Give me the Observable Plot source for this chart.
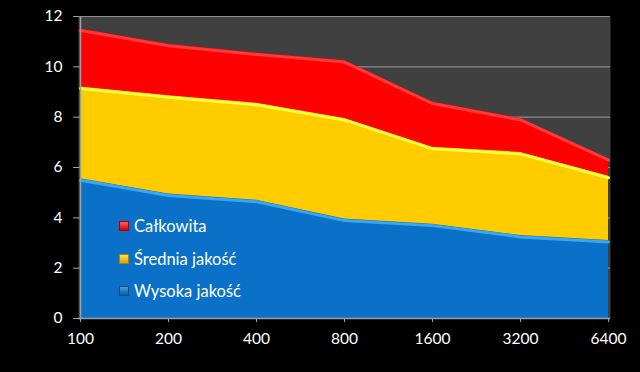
<!DOCTYPE html>
<html>
<head>
<meta charset="utf-8">
<script src="https://cdn.jsdelivr.net/npm/d3@7"></script>
<script src="https://cdn.jsdelivr.net/npm/@observablehq/plot@0.6"></script>
<style>
  html, body { margin: 0; padding: 0; background: #000; }
  #wrap { position: relative; width: 640px; height: 372px; background: #000; font-family: Lato, "Open Sans", sans-serif; }
  #legend { position: absolute; left: 119px; top: 210px; color: #fff; font-size: 16.5px; }
  #legend .row { height: 32.5px; display: flex; align-items: center; }
  #legend .sw { width: 10px; height: 10px; margin-right: 5px; box-sizing: border-box; }
</style>
</head>
<body>
<div id="wrap"></div>
<script>
const categories = ["100", "200", "400", "800", "1600", "3200", "6400"];
const calkowita = [11.5, 10.9, 10.55, 10.25, 8.6, 7.95, 6.35];
const srednia = [9.2, 8.85, 8.55, 7.95, 6.8, 6.6, 5.65];
const wysoka = [5.55, 4.95, 4.7, 3.95, 3.75, 3.3, 3.1];
const seriesNames = ["Całkowita", "Średnia jakość", "Wysoka jakość"];
const yTicks = [0, 2, 4, 6, 8, 10, 12];

const colors = {"Całkowita": "#ff0000", "Średnia jakość": "#ffcc00", "Wysoka jakość": "#0a70c8"};
const highlights = {"Całkowita": "#ff3a3a", "Średnia jakość": "#ffff3a", "Wysoka jakość": "#3aa6ee"};
const gradients = {"Całkowita": "linear-gradient(#ff6060,#d00000)", "Średnia jakość": "linear-gradient(#ffe060,#e0a000)", "Wysoka jakość": "linear-gradient(#40a0e8,#0a5aa0)"};

const seriesValues = [calkowita, srednia, wysoka];
const data = [];
seriesNames.forEach((name, si) => {
  categories.forEach((c, i) => data.push({series: name, x: c, y: seriesValues[si][i]}));
});

const marks = [
  Plot.frame({fill: "#404040", stroke: null}),
  Plot.ruleY(yTicks, {stroke: "#8c8c8c", strokeWidth: 1.2}),
];
seriesNames.forEach(name => {
  const d = data.filter(r => r.series === name);
  marks.push(Plot.areaY(d, {x: "x", y1: 0, y2: "y", fill: colors[name], curve: "linear"}));
  marks.push(Plot.lineY(d, {x: "x", y: "y", stroke: highlights[name], strokeWidth: 3, curve: "linear", dy: 1.5}));
});
marks.push(
  Plot.ruleX([categories[0]], {stroke: "#a0a0a0", strokeWidth: 1.5}),
  Plot.ruleY([0], {stroke: "#a0a0a0", strokeWidth: 1.5}),
  Plot.axisY({ticks: yTicks, tickSize: 5, tickPadding: 11, stroke: "#a0a0a0", fill: "#fff", fontSize: 15.5, label: null}),
  Plot.axisX({tickSize: 4, tickPadding: 10, stroke: "#a0a0a0", fill: "#fff", fontSize: 15.5, label: null})
);

const chart = Plot.plot({
  width: 640,
  height: 372,
  marginLeft: 78,
  marginRight: 30,
  marginTop: 16,
  marginBottom: 54,
  style: {background: "#000", color: "#fff", fontFamily: "Lato, 'Open Sans', sans-serif"},
  x: {type: "point", domain: categories, padding: 0},
  y: {domain: [0, 12]},
  marks
});
const wrap = document.getElementById("wrap");
wrap.appendChild(chart);

const legend = document.createElement("div");
legend.id = "legend";
seriesNames.forEach(name => {
  const row = document.createElement("div");
  row.className = "row";
  const sw = document.createElement("div");
  sw.className = "sw";
  sw.style.background = gradients[name];
  sw.style.border = "1px solid " + d3.color(colors[name]).darker(1.2);
  const t = document.createElement("span");
  t.textContent = name;
  row.appendChild(sw);
  row.appendChild(t);
  legend.appendChild(row);
});
wrap.appendChild(legend);
</script>
</body>
</html>
